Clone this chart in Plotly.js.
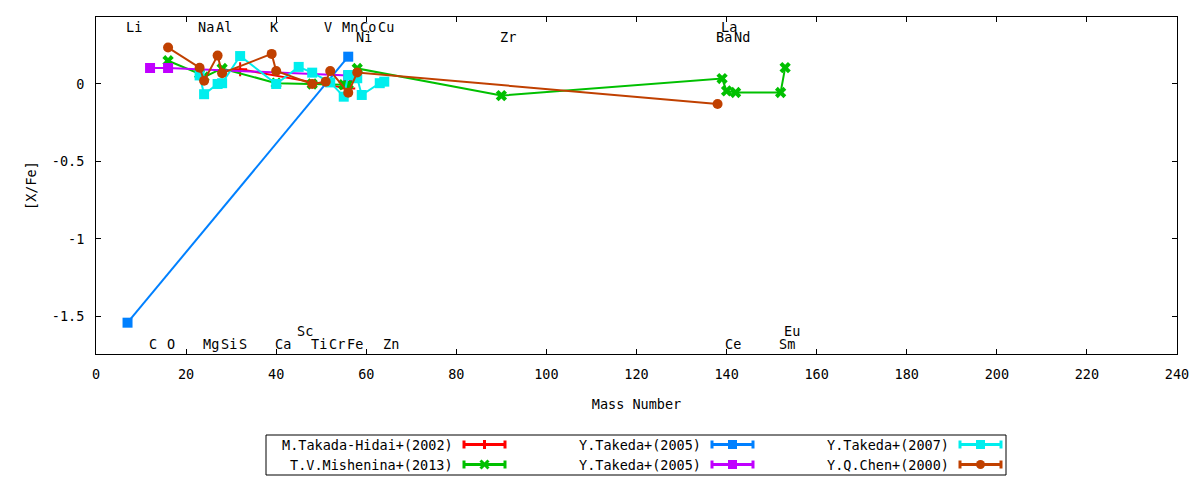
<!DOCTYPE html>
<html>
<head>
<meta charset="utf-8">
<script src="https://cdn.plot.ly/plotly-3.0.1.min.js"></script>
<style>
    body { margin: 0; background: #fff; }
    #graph { width: 1200px; height: 480px; }
</style>
</head>
<body>
<div id="graph"></div>
<script>
'use strict';

// element symbols written along the top and bottom of the frame
var labelNames = ['Li', 'Na', 'Al', 'K', 'V', 'Mn', 'Co', 'Cu', 'La',
                  'Ni', 'Zr', 'Ba', 'Nd',
                  'C', 'O', 'Mg', 'Si', 'S', 'Ca', 'Ti', 'Cr', 'Fe', 'Zn', 'Ce', 'Sm',
                  'Sc', 'Eu'];
var labelMass = [7, 23, 27, 39, 51, 55, 59, 63, 139,
                 58, 90, 138, 142,
                 12, 16, 24, 28, 32, 40, 48, 52, 56, 64, 140, 152,
                 45, 153];
var labelRow = [0, 0, 0, 0, 0, 0, 0, 0, 0,
                1, 1, 1, 1,
                2, 2, 2, 2, 2, 2, 2, 2, 2, 2, 2, 2,
                3, 3];

// series, x = mass number, y = [X/Fe]
var takadaMass = [32, 56];
var takadaXFe = [0.095, -0.03];

var misheninaMass = [16, 23, 24, 28, 40, 48, 55, 56, 58, 90, 139, 140, 142, 152, 153];
var misheninaXFe = [0.15, 0.065, 0.045, 0.10, 0.005, 0.0, -0.005, 0.0, 0.10, -0.075, 0.035, -0.045, -0.055, -0.055, 0.105];

var takeda05aMass = [7, 56];
var takeda05aXFe = [-1.54, 0.176];

var takeda05bMass = [12, 16, 56];
var takeda05bXFe = [0.103, 0.103, 0.055];

var takeda07Mass = [23, 24, 27, 28, 32, 40, 45, 48, 52, 55, 56, 58, 59, 63, 64];
var takeda07XFe = [0.055, -0.066, 0.0, 0.005, 0.18, 0.0, 0.11, 0.073, 0.01, -0.082, 0.058, 0.037, -0.071, 0.005, 0.015];

var chenMass = [16, 23, 24, 27, 28, 39, 40, 48, 51, 52, 56, 58, 138];
var chenXFe = [0.235, 0.105, 0.021, 0.183, 0.069, 0.194, 0.084, 0.0, 0.015, 0.084, -0.056, 0.074, -0.129];

var seriesNames = ['M.Takada-Hidai+(2002)', 'T.V.Mishenina+(2013)', 'Y.Takeda+(2005)',
                   'Y.Takeda+(2005)', 'Y.Takeda+(2007)', 'Y.Q.Chen+(2000)'];

var yTickVals = [-1.5, -1, -0.5, 0];
var yTickText = ['-1.5', '-1', '-0.5', '0'];

var FONT = 'DejaVu Sans Mono, monospace';
var colors = ['#ff0000', '#00c000', '#0080ff', '#c000ff', '#00eeee', '#c04000'];
var symbols = ['cross-thin', 'x', 'square', 'square', 'square', 'circle'];

var xs = [takadaMass, misheninaMass, takeda05aMass, takeda05bMass, takeda07Mass, chenMass];
var ys = [takadaXFe, misheninaXFe, takeda05aXFe, takeda05bXFe, takeda07XFe, chenXFe];

var data = [];
for (var i = 0; i < xs.length; i++) {
    data.push({
        x: xs[i],
        y: ys[i],
        name: seriesNames[i],
        type: 'scatter',
        mode: 'lines+markers',
        line: {color: colors[i], width: 2},
        marker: {
            symbol: symbols[i],
            size: 10,
            color: colors[i],
            line: {color: colors[i], width: symbols[i] === 'cross-thin' ? 2 : 0}
        },
        showlegend: false
    });
}

// layout geometry in pixels
var W = 1200, H = 480;
var M = {l: 96, r: 23, t: 17, b: 126};
var pw = W - M.l - M.r, ph = H - M.t - M.b;
function px(x) { return (x - M.l) / pw; }
function py(y) { return (H - M.b - y) / ph; }

var rowY = [0.365, 0.303, -1.677, -1.594];
var annotations = [];
for (var k = 0; k < labelNames.length; k++) {
    annotations.push({
        x: labelMass[k] - 0.75,
        y: rowY[labelRow[k]],
        xref: 'x', yref: 'y',
        text: labelNames[k],
        showarrow: false,
        xanchor: 'left', yanchor: 'middle',
        font: {family: FONT, size: 13.5, color: '#000'}
    });
}

// hand-drawn key: text right of the frame, sample to the right of the text
var shapes = [{
    type: 'rect', xref: 'paper', yref: 'paper',
    x0: px(266), x1: px(1006), y0: py(435), y1: py(475),
    line: {color: '#000', width: 1}, fillcolor: 'rgba(0,0,0,0)'
}];
var colX = [463, 711, 959];
var rowPix = [444.5, 464.5];
for (var s = 0; s < seriesNames.length; s++) {
    var c = Math.floor(s / 2), r = s % 2;
    var x0 = colX[c], x1 = colX[c] + 43, yc = rowPix[r], xm = (x0 + x1) / 2;
    var col = colors[s];
    annotations.push({
        x: px(x0 - 8), y: py(yc), xref: 'paper', yref: 'paper',
        text: seriesNames[s], showarrow: false,
        xanchor: 'right', yanchor: 'middle',
        font: {family: FONT, size: 13.5, color: '#000'}
    });
    shapes.push({type: 'line', xref: 'paper', yref: 'paper',
        x0: px(x0), x1: px(x1), y0: py(yc), y1: py(yc), line: {color: col, width: 3}});
    shapes.push({type: 'line', xref: 'paper', yref: 'paper',
        x0: px(x0 + 1), x1: px(x0 + 1), y0: py(yc - 4), y1: py(yc + 4), line: {color: col, width: 3}});
    shapes.push({type: 'line', xref: 'paper', yref: 'paper',
        x0: px(x1 - 1), x1: px(x1 - 1), y0: py(yc - 4), y1: py(yc + 4), line: {color: col, width: 3}});
    var sym = symbols[s];
    if (sym === 'square') {
        shapes.push({type: 'rect', xref: 'paper', yref: 'paper',
            x0: px(xm - 4.5), x1: px(xm + 4.5), y0: py(yc - 4.5), y1: py(yc + 4.5),
            line: {width: 0}, fillcolor: col});
    } else if (sym === 'circle') {
        shapes.push({type: 'circle', xref: 'paper', yref: 'paper',
            x0: px(xm - 4.5), x1: px(xm + 4.5), y0: py(yc - 4.5), y1: py(yc + 4.5),
            line: {width: 0}, fillcolor: col});
    } else if (sym === 'x') {
        shapes.push({type: 'line', xref: 'paper', yref: 'paper',
            x0: px(xm - 4), x1: px(xm + 4), y0: py(yc - 4), y1: py(yc + 4), line: {color: col, width: 3}});
        shapes.push({type: 'line', xref: 'paper', yref: 'paper',
            x0: px(xm - 4), x1: px(xm + 4), y0: py(yc + 4), y1: py(yc - 4), line: {color: col, width: 3}});
    } else {
        shapes.push({type: 'line', xref: 'paper', yref: 'paper',
            x0: px(xm), x1: px(xm), y0: py(yc - 4.5), y1: py(yc + 4.5), line: {color: col, width: 3}});
    }
}

var axisCommon = {
    showgrid: false,
    zeroline: false,
    showline: true,
    linecolor: '#000',
    linewidth: 1,
    mirror: 'allticks',
    ticks: 'inside',
    ticklen: 5,
    tickwidth: 1,
    tickcolor: '#000',
    tickfont: {family: FONT, size: 13.5, color: '#000'}
};

var layout = {
    width: W,
    height: H,
    margin: {l: M.l, r: M.r, t: M.t, b: M.b, pad: 0},
    paper_bgcolor: '#fff',
    plot_bgcolor: '#fff',
    font: {family: FONT, size: 13.5, color: '#000'},
    xaxis: Object.assign({}, axisCommon, {
        range: [0, 240],
        tick0: 0,
        dtick: 20,
        ticklabelstandoff: 8,
        title: {text: 'Mass Number', font: {family: FONT, size: 13.5}, standoff: 18}
    }),
    yaxis: Object.assign({}, axisCommon, {
        range: [-1.742, 0.432],
        tickvals: yTickVals,
        ticktext: yTickText,
        ticklabelstandoff: 8,
        title: {text: '[X/Fe]', font: {family: FONT, size: 13.5}, standoff: 12}
    }),
    annotations: annotations,
    shapes: shapes,
    showlegend: false
};

Plotly.newPlot('graph', data, layout, {staticPlot: true});
</script>
</body>
</html>
